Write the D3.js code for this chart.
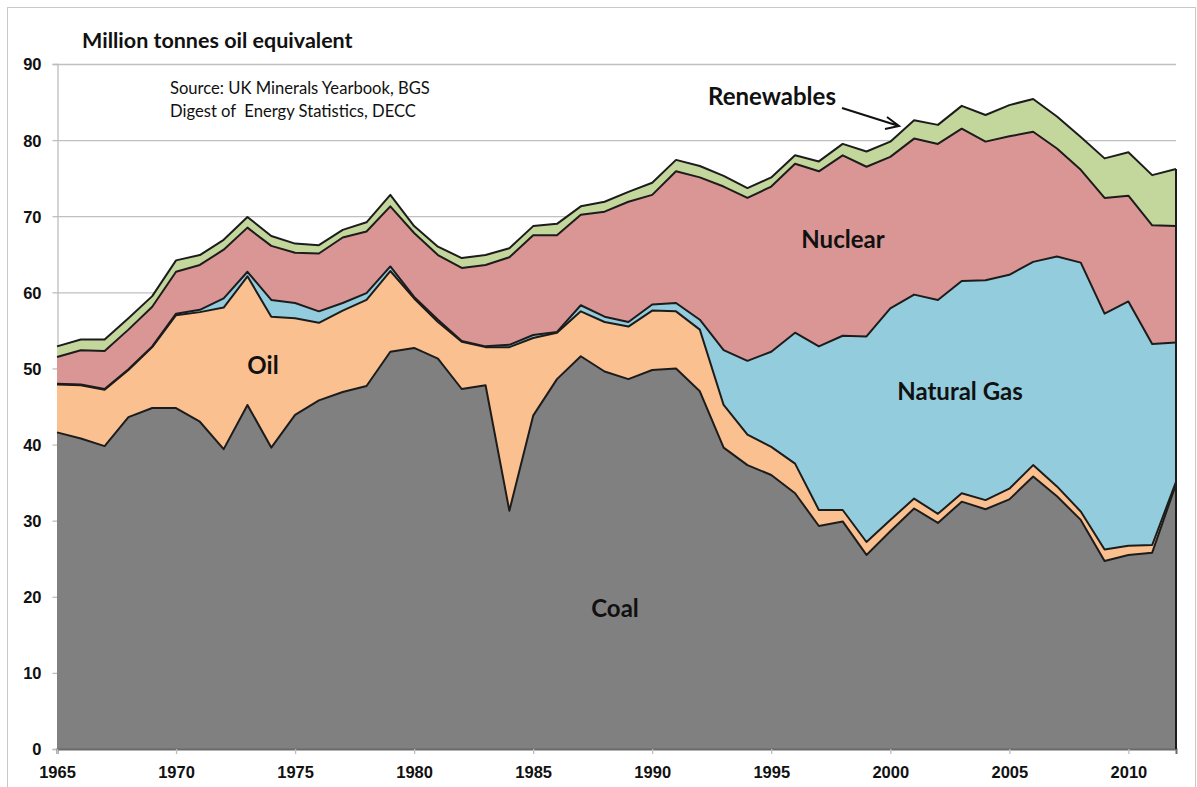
<!DOCTYPE html>
<html>
<head>
<meta charset="utf-8">
<script src="https://cdn.jsdelivr.net/npm/d3@7"></script>
<style>
  body { margin: 0; background: #fff; }
  svg { display: block; font-family: Lato, "Open Sans", sans-serif; }
</style>
</head>
<body>
<svg id="chart" width="1197" height="787"></svg>
<script>
// UK primary energy consumption by fuel, million tonnes oil equivalent
var years = d3.range(1965, 2013);

var coal = [41.6, 40.8, 39.8, 43.6, 44.8, 44.8, 43.0, 39.4, 45.2, 39.6,
            43.9, 45.8, 46.9, 47.7, 52.2, 52.7, 51.3, 47.3, 47.8, 31.3,
            43.8, 48.6, 51.6, 49.6, 48.6, 49.8, 50.0, 47.0, 39.6, 37.3,
            36.0, 33.6, 29.3, 29.9, 25.5, 28.6, 31.6, 29.7, 32.5, 31.5,
            32.8, 35.8, 33.2, 30.1, 24.7, 25.5, 25.8, 34.8];

var oil = [6.3, 7.0, 7.4, 6.2, 8.0, 12.2, 14.4, 18.6, 16.9, 17.2,
           12.7, 10.2, 10.7, 11.3, 10.6, 6.5, 4.8, 6.2, 5.0, 21.5,
           10.2, 6.1, 5.9, 6.5, 6.9, 7.8, 7.5, 8.1, 5.6, 4.0,
           3.7, 3.9, 2.1, 1.5, 1.7, 1.5, 1.3, 1.2, 1.1, 1.2,
           1.4, 1.5, 1.3, 1.1, 1.5, 1.2, 1.0, 0.3];

var gas = [0.1, 0.1, 0.1, 0.1, 0.1, 0.2, 0.3, 1.2, 0.6, 2.2,
           2.0, 1.5, 1.0, 0.9, 0.6, 0.2, 0.3, 0.1, 0.1, 0.3,
           0.4, 0.1, 0.8, 0.7, 0.6, 0.8, 1.1, 1.3, 7.2, 9.7,
           12.5, 17.2, 21.5, 22.9, 27.0, 27.8, 26.8, 28.1, 27.9, 28.9,
           28.1, 26.7, 30.2, 32.7, 31.0, 32.1, 26.4, 18.3];

var nuclear = [3.5, 4.5, 5.0, 5.2, 5.2, 5.5, 5.9, 6.4, 5.8, 7.1,
               6.6, 7.6, 8.6, 8.1, 7.9, 8.4, 8.5, 9.6, 10.7, 11.5,
               13.1, 12.7, 11.9, 13.8, 15.8, 14.4, 17.3, 18.7, 21.5, 21.4,
               21.7, 22.2, 23.0, 23.7, 22.3, 19.9, 20.5, 20.5, 20.0, 18.2,
               18.2, 17.1, 14.2, 12.2, 15.2, 13.9, 15.6, 15.3];

var renewables = [1.4, 1.4, 1.5, 1.5, 1.4, 1.5, 1.3, 1.3, 1.4, 1.3,
                  1.2, 1.1, 1.0, 1.2, 1.5, 0.9, 1.1, 1.3, 1.3, 1.2,
                  1.2, 1.5, 1.1, 1.3, 1.3, 1.6, 1.5, 1.5, 1.4, 1.3,
                  1.2, 1.1, 1.3, 1.5, 2.0, 2.0, 2.4, 2.5, 3.0, 3.5,
                  4.1, 4.3, 4.2, 4.3, 5.2, 5.7, 6.6, 7.5];

var keys = ['coal', 'oil', 'gas', 'nuclear', 'renewables'];
var colors = ['#808080', '#FAC090', '#93CDDD', '#D99694', '#C3D69B'];
var yTicks = [0, 10, 20, 30, 40, 50, 60, 70, 80, 90];
var xTicks = [1965, 1970, 1975, 1980, 1985, 1990, 1995, 2000, 2005, 2010];

// build rows for d3.stack
var rows = years.map(function (yr, i) {
    return {year: yr, coal: coal[i], oil: oil[i], gas: gas[i],
            nuclear: nuclear[i], renewables: renewables[i]};
});

var svg = d3.select('#chart');

var x = d3.scaleLinear().domain([1965, 2012]).range([57, 1176]);
var y = d3.scaleLinear().domain([0, 90]).range([749, 64]);

// outer frame
svg.append('rect')
    .attr('x', 7.5).attr('y', 7.5)
    .attr('width', 1188).attr('height', 800)
    .style('fill', 'none')
    .style('stroke', '#c8c8c8');

// gridlines
svg.append('g').selectAll('line')
    .data(yTicks.slice(1))
    .enter().append('line')
    .attr('x1', x(1965)).attr('x2', x(2012))
    .attr('y1', function (d) { return y(d) + 0.5 })
    .attr('y2', function (d) { return y(d) + 0.5 })
    .style('stroke', '#c0c0c0')
    .style('stroke-width', 1.3);

// y axis
var yAxis = d3.axisLeft(y).tickValues(yTicks).tickSize(5).tickPadding(11);
var gy = svg.append('g')
    .attr('transform', 'translate(' + (x(1965) + 0.5) + ',0)')
    .call(yAxis);
gy.select('.domain').style('stroke', '#bdbdbd').style('stroke-width', 1.3);
gy.selectAll('.tick line').style('stroke', '#bdbdbd').style('stroke-width', 1.3);
gy.selectAll('.tick text')
    .style('font-size', '16.5px')
    .style('font-weight', 'bold')
    .style('fill', '#111')
    .attr('dy', '0.36em');

// stacked areas
var stack = d3.stack().keys(keys);
var series = stack(rows);

var area = d3.area()
    .x(function (d) { return x(d.data.year) })
    .y0(function (d) { return y(d[0]) })
    .y1(function (d) { return y(d[1]) });

var topLine = d3.line()
    .x(function (d) { return x(d.data.year) })
    .y(function (d) { return y(d[1]) });

svg.append('g').selectAll('path')
    .data(series)
    .enter().append('path')
    .attr('d', area)
    .style('fill', function (d, i) { return colors[i] });

// x axis
var xAxis = d3.axisBottom(x).tickValues(xTicks).tickSize(5).tickPadding(12).tickFormat(d3.format('d'));
var gx = svg.append('g')
    .attr('transform', 'translate(0,' + y(0) + ')')
    .call(xAxis);
gx.select('.domain').style('stroke', '#6a6a6a').style('stroke-width', 2);
gx.selectAll('.tick line').style('stroke', '#bdbdbd').style('stroke-width', 1.3);
gx.selectAll('.tick text')
    .style('font-size', '16.5px')
    .style('font-weight', 'bold')
    .style('fill', '#111');

// outlines on top of each band
svg.append('g').selectAll('path')
    .data(series)
    .enter().append('path')
    .attr('d', topLine)
    .style('fill', 'none')
    .style('stroke', '#1c1c1c')
    .style('stroke-width', 2)
    .style('stroke-linejoin', 'round');

// right closing edge
var last = series[series.length - 1][years.length - 1];
svg.append('line')
    .attr('x1', x(2012)).attr('x2', x(2012))
    .attr('y1', y(0)).attr('y2', y(last[1]))
    .style('stroke', '#1c1c1c')
    .style('stroke-width', 2);

// titles
svg.append('text')
    .attr('x', 82).attr('y', 48)
    .text('Million tonnes oil equivalent')
    .style('font-size', '21.5px')
    .style('font-weight', 'bold')
    .style('fill', '#111');

svg.append('text')
    .attr('x', 170).attr('y', 94)
    .text('Source: UK Minerals Yearbook, BGS')
    .style('font-size', '16.6px')
    .style('fill', '#111');

svg.append('text')
    .attr('x', 170).attr('y', 117)
    .attr('xml:space', 'preserve')
    .text('Digest of  Energy Statistics, DECC')
    .style('font-size', '16.6px')
    .style('fill', '#111');

// series labels
var labels = [
    {text: 'Coal', x: 615, y: 609},
    {text: 'Oil', x: 263, y: 366},
    {text: 'Natural Gas', x: 960, y: 392},
    {text: 'Nuclear', x: 843, y: 240},
    {text: 'Renewables', x: 772, y: 97}
];
svg.append('g').selectAll('text')
    .data(labels)
    .enter().append('text')
    .attr('x', function (d) { return d.x })
    .attr('y', function (d) { return d.y })
    .attr('text-anchor', 'middle')
    .attr('dy', '0.35em')
    .text(function (d) { return d.text })
    .style('font-size', '24px')
    .style('font-weight', 'bold')
    .style('fill', '#111');

// arrow to the renewables band
svg.append('path')
    .attr('d', 'M842,108 L899,126 M887,117 L899,126 L885,129')
    .style('fill', 'none')
    .style('stroke', '#111')
    .style('stroke-width', 2);
</script>
</body>
</html>
